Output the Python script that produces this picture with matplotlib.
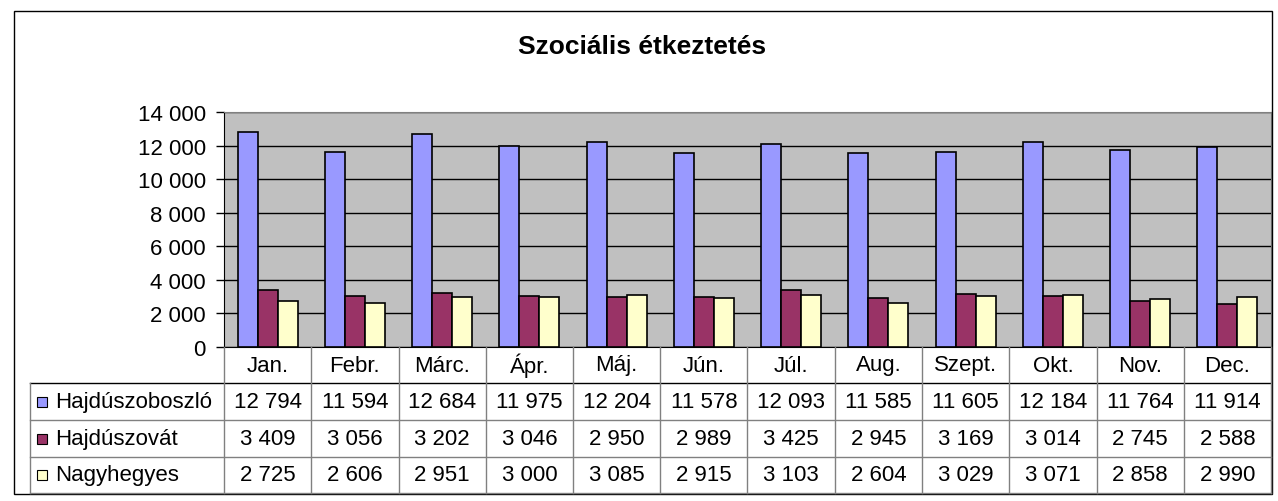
import matplotlib.pyplot as plt
import numpy as np
from matplotlib.patches import Rectangle
from matplotlib.lines import Line2D

plt.rcParams["font.family"] = ["Liberation Sans", "DejaVu Sans"]

months = ["Jan.", "Febr.", "Márc.", "Ápr.", "Máj.", "Jún.", "Júl.", "Aug.",
          "Szept.", "Okt.", "Nov.", "Dec."]
series_names = ["Hajdúszoboszló", "Hajdúszovát", "Nagyhegyes"]
hajduszoboszlo = [12794, 11594, 12684, 11975, 12204, 11578, 12093, 11585, 11605, 12184, 11764, 11914]
hajduszovat = [3409, 3056, 3202, 3046, 2950, 2989, 3425, 2945, 3169, 3014, 2745, 2588]
nagyhegyes = [2725, 2606, 2951, 3000, 3085, 2915, 3103, 2604, 3029, 3071, 2858, 2990]
colors = ["#9999FF", "#993366", "#FFFFCC"]

W, H = 1278, 502
FS = 16
fig = plt.figure(figsize=(W / 100, H / 100), dpi=100)


def fx(px):
    return px / W


def fy(py):
    return 1 - py / H


def fmt(v):
    return f"{v:,}".replace(",", " ")


# keret a diagram körül
fig.patches.append(Rectangle((fx(14), fy(495)), fx(1258), (495 - 12) / H,
                             transform=fig.transFigure, fill=False,
                             edgecolor="black", linewidth=1))

left, right, top, bottom = 224, 1271, 113, 348
ax = fig.add_axes([fx(left), fy(bottom), fx(right - left), (bottom - top) / H])
ax.set_facecolor("#C0C0C0")

x = np.arange(len(months))
bw = 0.23
for i, (vals, c) in enumerate(zip([hajduszoboszlo, hajduszovat, nagyhegyes], colors)):
    ax.bar(x + (i - 1) * bw, vals, width=bw, color=c, edgecolor="black",
           linewidth=1.2, zorder=3)

ax.set_xlim(-0.5, len(months) - 0.5)
ax.set_ylim(0, 14000)
yt = list(range(0, 14001, 2000))
ax.set_yticks(yt)
ax.set_yticklabels([fmt(v) for v in yt], fontsize=FS)
ax.yaxis.grid(True, color="black", linewidth=1, zorder=1)
ax.set_axisbelow(True)
ax.set_xticks([])
ax.tick_params(axis="y", length=6, width=1, pad=7)
for s in ["top", "right"]:
    ax.spines[s].set_color("#808080")
ax.spines["left"].set_color("black")
ax.spines["bottom"].set_color("black")

fig.text(fx(642), fy(47), "Szociális étkeztetés", ha="center", va="center",
         fontsize=19, fontweight="bold")

# adattábla
col_w = (right - left) / len(months)
row_y = [348, 384, 421, 458, 494]
tleft = 30
gray = "#808080"


def hline(x0, x1, y, color="black"):
    fig.lines.append(Line2D([fx(x0), fx(x1)], [fy(y), fy(y)],
                            transform=fig.transFigure, color=color, linewidth=1))


def vline(xp, y0, y1, color=gray):
    fig.lines.append(Line2D([fx(xp), fx(xp)], [fy(y0), fy(y1)],
                            transform=fig.transFigure, color=color, linewidth=1))


hline(tleft, right, row_y[1])
hline(tleft, right, row_y[2], gray)
hline(tleft, right, row_y[3], gray)
hline(tleft, right, row_y[4], gray)
vline(tleft, row_y[1], row_y[4])
for k in range(len(months) + 1):
    vline(left + k * col_w, row_y[0], row_y[4])

for k, m in enumerate(months):
    fig.text(fx(left + (k + 0.5) * col_w), fy((row_y[0] + row_y[1]) / 2), m,
             ha="center", va="center", fontsize=FS)

for r, (name, vals, c) in enumerate(zip(series_names,
                                        [hajduszoboszlo, hajduszovat, nagyhegyes],
                                        colors)):
    yc = (row_y[r + 1] + row_y[r + 2]) / 2
    fig.patches.append(Rectangle((fx(37), fy(yc + 5)), fx(10), 10 / H,
                                 transform=fig.transFigure, facecolor=c,
                                 edgecolor="black", linewidth=0.8))
    fig.text(fx(55), fy(yc), name, ha="left", va="center", fontsize=FS)
    for k, v in enumerate(vals):
        fig.text(fx(left + (k + 0.5) * col_w), fy(yc), fmt(v),
                 ha="center", va="center", fontsize=FS)

fig.savefig("out.png", dpi=100)
